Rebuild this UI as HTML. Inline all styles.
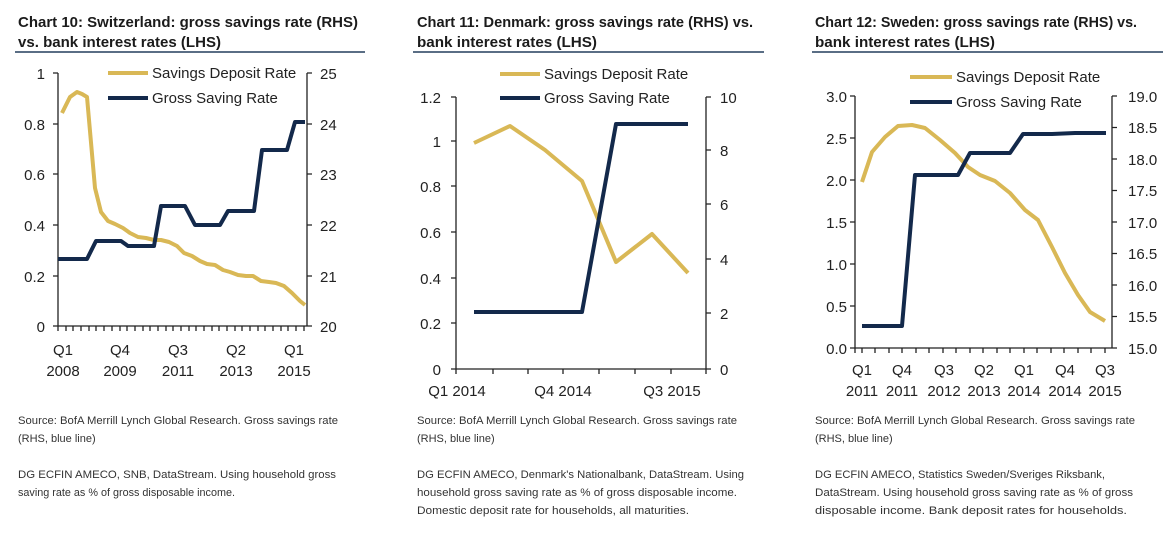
<!DOCTYPE html>
<html><head><meta charset="utf-8"><style>
html,body{margin:0;padding:0;background:#fff;}
svg{display:block;font-family:"Liberation Sans",sans-serif;}
.t{font-weight:bold;font-size:15px;fill:#1b1b1b;}
.a{font-size:15px;fill:#222;}
.f{font-size:11px;fill:#333;}
.g{fill:none;stroke:#D9B856;stroke-width:4;stroke-linejoin:round;}
.b{fill:none;stroke:#13294B;stroke-width:4;stroke-linejoin:round;}
.ax{stroke:#222;stroke-width:1.3;fill:none;}
.ul{stroke:#5a6e85;stroke-width:2;}
</style></head><body>
<svg width="1174" height="535" viewBox="0 0 1174 535">
<!-- Chart 10 -->
<text class="t" x="18" y="27" textLength="340" lengthAdjust="spacingAndGlyphs">Chart 10: Switzerland: gross savings rate (RHS)</text>
<text class="t" x="18" y="47" textLength="203" lengthAdjust="spacingAndGlyphs">vs. bank interest rates (LHS)</text>
<line class="ul" x1="15" y1="52" x2="365" y2="52"/>
<path class="ax" d="M58 73V326H307V73 M53 73H58 M53 124H58 M53 174H58 M53 225H58 M53 276H58 M53 326H58 M307 73H312 M307 124H312 M307 174H312 M307 225H312 M307 276H312 M307 326H312"/>
<path class="ax" d="M58 326v5M66 326v5M73 326v5M81 326v5M89 326v5M96 326v5M104 326v5M112 326v5M120 326v5M127 326v5M135 326v5M143 326v5M150 326v5M158 326v5M166 326v5M173 326v5M181 326v5M189 326v5M196 326v5M204 326v5M212 326v5M219 326v5M227 326v5M235 326v5M242 326v5M250 326v5M258 326v5M265 326v5M273 326v5M281 326v5M288 326v5M296 326v5M304 326v5"/>
<g class="a" text-anchor="end"><text x="45" y="79">1</text><text x="45" y="130">0.8</text><text x="45" y="180">0.6</text><text x="45" y="231">0.4</text><text x="45" y="282">0.2</text><text x="45" y="332">0</text></g>
<g class="a"><text x="320" y="79">25</text><text x="320" y="130">24</text><text x="320" y="180">23</text><text x="320" y="231">22</text><text x="320" y="282">21</text><text x="320" y="332">20</text></g>
<g class="a" text-anchor="middle"><text x="63" y="355">Q1</text><text x="63" y="376">2008</text><text x="120" y="355">Q4</text><text x="120" y="376">2009</text><text x="178" y="355">Q3</text><text x="178" y="376">2011</text><text x="236" y="355">Q2</text><text x="236" y="376">2013</text><text x="294" y="355">Q1</text><text x="294" y="376">2015</text></g>
<polyline class="g" points="62,113 70,97 77,92 82,94 87,97 95,188 101,212 108,221 115,224 123,228 130,233 138,237 146,238 154,240 161,240 169,242 177,246 184,253 192,256 200,261 207,264 215,265 223,270 230,272 238,275 246,276 253,276 261,281 269,282 276,283 284,286 292,293 300,301 305,305"/>
<polyline class="b" points="58,259 87,259 96,241 121,241 128,246 154,246 161,206 185,206 195,225 220,225 228,211 254,211 262,150 287,150 295,122 305,122"/>
<line class="g" x1="108" y1="73" x2="148" y2="73"/><text class="a" x="152" y="78" font-size="14">Savings Deposit Rate</text>
<line class="b" x1="108" y1="98" x2="148" y2="98"/><text class="a" x="152" y="103" font-size="14">Gross Saving Rate</text>
<text class="f" x="18" y="424" textLength="320" lengthAdjust="spacingAndGlyphs">Source: BofA Merrill Lynch Global Research. Gross savings rate</text>
<text class="f" x="18" y="442">(RHS, blue line)</text>
<text class="f" x="18" y="478" textLength="318" lengthAdjust="spacingAndGlyphs">DG ECFIN AMECO, SNB, DataStream. Using household gross</text>
<text class="f" x="18" y="496" textLength="217" lengthAdjust="spacingAndGlyphs">saving rate as % of gross disposable income.</text>

<!-- Chart 11 -->
<text class="t" x="417" y="27" textLength="336" lengthAdjust="spacingAndGlyphs">Chart 11: Denmark: gross savings rate (RHS) vs.</text>
<text class="t" x="417" y="47" textLength="180" lengthAdjust="spacingAndGlyphs">bank interest rates (LHS)</text>
<line class="ul" x1="413" y1="52" x2="764" y2="52"/>
<path class="ax" d="M456 97V369H706V97 M451 97H456 M451 141H456 M451 186H456 M451 232H456 M451 278H456 M451 323H456 M451 369H456 M706 97H711 M706 150H711 M706 204H711 M706 259H711 M706 313H711 M706 369H711"/>
<path class="ax" d="M456 369v5M493 369v5M528 369v5M563 369v5M599 369v5M635 369v5M671 369v5M706 369v5"/>
<g class="a" text-anchor="end"><text x="441" y="103">1.2</text><text x="441" y="147">1</text><text x="441" y="192">0.8</text><text x="441" y="238">0.6</text><text x="441" y="284">0.4</text><text x="441" y="329">0.2</text><text x="441" y="375">0</text></g>
<g class="a"><text x="720" y="103">10</text><text x="720" y="156">8</text><text x="720" y="210">6</text><text x="720" y="265">4</text><text x="720" y="319">2</text><text x="720" y="375">0</text></g>
<g class="a" text-anchor="middle"><text x="457" y="396">Q1 2014</text><text x="563" y="396">Q4 2014</text><text x="672" y="396">Q3 2015</text></g>
<polyline class="g" points="474,143 510,126 545,150 582,181 616,262 652,234 688,273"/>
<polyline class="b" points="474,312 582,312 616,124 688,124"/>
<line class="g" x1="500" y1="74" x2="540" y2="74"/><text class="a" x="544" y="79" font-size="14">Savings Deposit Rate</text>
<line class="b" x1="500" y1="98" x2="540" y2="98"/><text class="a" x="544" y="103" font-size="14">Gross Saving Rate</text>
<text class="f" x="417" y="424" textLength="320" lengthAdjust="spacingAndGlyphs">Source: BofA Merrill Lynch Global Research. Gross savings rate</text>
<text class="f" x="417" y="442">(RHS, blue line)</text>
<text class="f" x="417" y="478" textLength="327" lengthAdjust="spacingAndGlyphs">DG ECFIN AMECO, Denmark's Nationalbank, DataStream. Using</text>
<text class="f" x="417" y="496" textLength="320" lengthAdjust="spacingAndGlyphs">household gross saving rate as % of gross disposable income.</text>
<text class="f" x="417" y="514" textLength="272" lengthAdjust="spacingAndGlyphs">Domestic deposit rate for households, all maturities.</text>

<!-- Chart 12 -->
<text class="t" x="815" y="27" textLength="322" lengthAdjust="spacingAndGlyphs">Chart 12: Sweden: gross savings rate (RHS) vs.</text>
<text class="t" x="815" y="47" textLength="180" lengthAdjust="spacingAndGlyphs">bank interest rates (LHS)</text>
<line class="ul" x1="812" y1="52" x2="1163" y2="52"/>
<path class="ax" d="M855 96V348H1112V96 M850 96H855 M850 138H855 M850 180H855 M850 222H855 M850 264H855 M850 306H855 M850 348H855 M1112 96H1117 M1112 127.5H1117 M1112 159H1117 M1112 190.5H1117 M1112 222H1117 M1112 253.5H1117 M1112 285H1117 M1112 316.5H1117 M1112 348H1117"/>
<path class="ax" d="M855 348v5M862 348v5M875 348v5M889 348v5M902 348v5M916 348v5M929 348v5M943 348v5M956 348v5M970 348v5M983 348v5M997 348v5M1010 348v5M1024 348v5M1037 348v5M1051 348v5M1064 348v5M1078 348v5M1091 348v5M1105 348v5"/>
<g class="a" text-anchor="end"><text x="847" y="102">3.0</text><text x="847" y="144">2.5</text><text x="847" y="186">2.0</text><text x="847" y="228">1.5</text><text x="847" y="270">1.0</text><text x="847" y="312">0.5</text><text x="847" y="354">0.0</text></g>
<g class="a"><text x="1128" y="102">19.0</text><text x="1128" y="133">18.5</text><text x="1128" y="165">18.0</text><text x="1128" y="196">17.5</text><text x="1128" y="228">17.0</text><text x="1128" y="259">16.5</text><text x="1128" y="291">16.0</text><text x="1128" y="322">15.5</text><text x="1128" y="354">15.0</text></g>
<g class="a" text-anchor="middle"><text x="862" y="375">Q1</text><text x="862" y="396">2011</text><text x="902" y="375">Q4</text><text x="902" y="396">2011</text><text x="944" y="375">Q3</text><text x="944" y="396">2012</text><text x="984" y="375">Q2</text><text x="984" y="396">2013</text><text x="1024" y="375">Q1</text><text x="1024" y="396">2014</text><text x="1065" y="375">Q4</text><text x="1065" y="396">2014</text><text x="1105" y="375">Q3</text><text x="1105" y="396">2015</text></g>
<polyline class="g" points="862,182 872,152 885,137 898,126 912,125 925,128 940,140 955,153 968,167 980,175 995,181 1010,193 1025,210 1038,220 1052,247 1065,273 1078,295 1090,312 1105,321"/>
<polyline class="b" points="862,326 902,326 915,175 958,175 970,153 1010,153 1023,134 1052,134 1075,133 1106,133"/>
<line class="g" x1="910" y1="77" x2="952" y2="77"/><text class="a" x="956" y="82" font-size="14">Savings Deposit Rate</text>
<line class="b" x1="910" y1="102" x2="952" y2="102"/><text class="a" x="956" y="107" font-size="14">Gross Saving Rate</text>
<text class="f" x="815" y="424" textLength="320" lengthAdjust="spacingAndGlyphs">Source: BofA Merrill Lynch Global Research. Gross savings rate</text>
<text class="f" x="815" y="442">(RHS, blue line)</text>
<text class="f" x="815" y="478" textLength="290" lengthAdjust="spacingAndGlyphs">DG ECFIN AMECO, Statistics Sweden/Sveriges Riksbank,</text>
<text class="f" x="815" y="496" textLength="318" lengthAdjust="spacingAndGlyphs">DataStream. Using household gross saving rate as % of gross</text>
<text class="f" x="815" y="514" textLength="312" lengthAdjust="spacingAndGlyphs">disposable income. Bank deposit rates for households.</text>
</svg>
</body></html>
